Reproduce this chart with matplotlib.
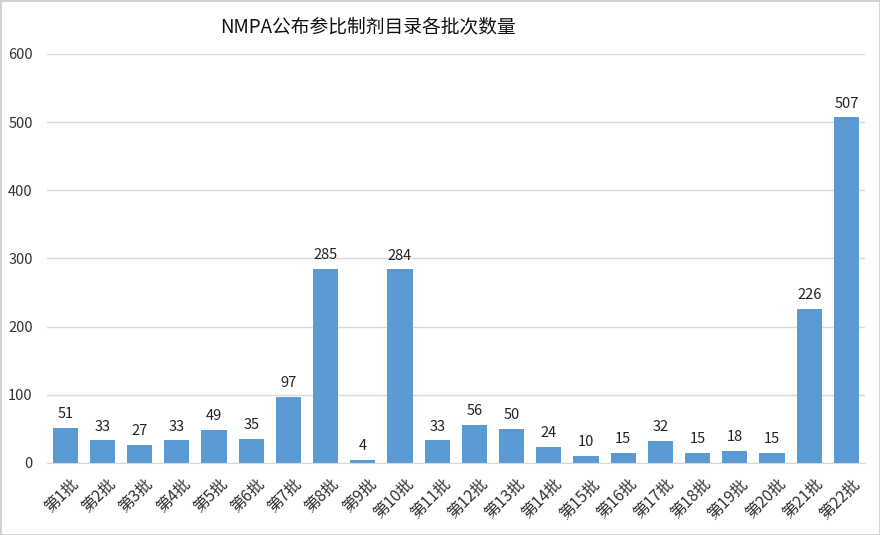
import matplotlib
matplotlib.use('Agg')
import matplotlib.pyplot as plt
import matplotlib.transforms as mtransforms
import numpy as np

plt.rcParams['font.family'] = ['Noto Sans CJK SC', 'DejaVu Sans']

batches = ['第%d批' % i for i in range(1, 23)]
counts = [51, 33, 27, 33, 49, 35, 97, 285, 4, 284, 33, 56, 50, 24, 10, 15, 32, 15, 18, 15, 226, 507]

fig = plt.figure(figsize=(8.8, 5.35), dpi=100)
ax = fig.add_axes([0.053, 0.1346, 0.930, 0.7645])

x = np.arange(len(batches))
bars = ax.bar(x, counts, width=0.68, color='#5B9BD5', zorder=2)

# value labels above bars
for xi, v in zip(x, counts):
    ax.text(xi, v + 10, str(v), ha='center', va='bottom', fontsize=10.5, color='#222222')

ax.set_xlim(-0.5, len(batches) - 0.5)
ax.set_ylim(0, 600)
ax.set_yticks(range(0, 601, 100))
ax.yaxis.grid(True, color='#D9D9D9', linewidth=1, zorder=0)
ax.tick_params(axis='both', length=0, labelsize=10.5, colors='#333333')
ax.tick_params(axis='y', pad=10)
ax.tick_params(axis='x', pad=9, labelsize=11.5)
for s in ['top', 'right', 'left']:
    ax.spines[s].set_visible(False)
ax.spines['bottom'].set_color('#D9D9D9')

ax.set_xticks(x)
ax.set_xticklabels(batches, rotation=45, ha='right', rotation_mode='anchor')
shift = mtransforms.ScaledTranslation(0.05, 0, fig.dpi_scale_trans)
for lbl in ax.get_xticklabels():
    lbl.set_transform(lbl.get_transform() + shift)

fig.text(368 / 880, 1 - 27 / 535, 'NMPA公布参比制剂目录各批次数量', ha='center', va='center',
         fontsize=13.5, color='#111111')

# light frame around the picture
fig.patches.append(plt.Rectangle((0, 0), 1, 1, transform=fig.transFigure, fill=False,
                                 edgecolor='#D0D0D0', linewidth=2))

fig.savefig('out.png', dpi=100)
